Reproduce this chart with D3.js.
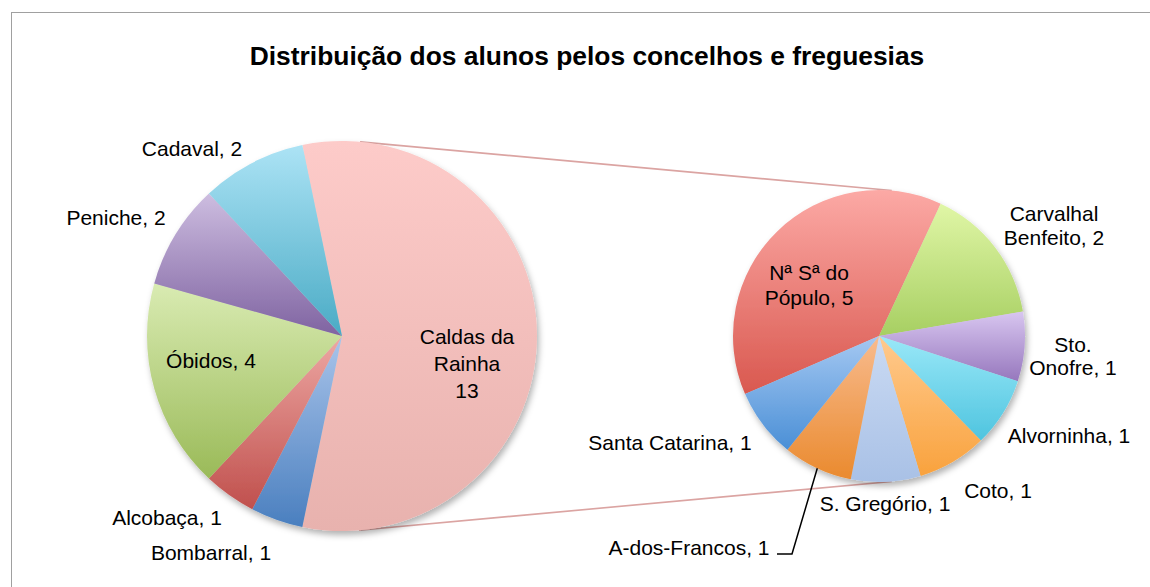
<!DOCTYPE html>
<html>
<head>
<meta charset="utf-8">
<script src="https://cdn.jsdelivr.net/npm/d3@7"></script>
<style>
  html, body { margin: 0; padding: 0; background: #fff; }
  svg { display: block; font-family: "Liberation Sans", Arial, Helvetica, sans-serif; }
</style>
</head>
<body>
<svg id="chart" width="1150" height="587"></svg>
<script>
// ---------- DATA ----------
const title = "Distribuição dos alunos pelos concelhos e freguesias";

const mainCategories = ["Caldas da Rainha", "Bombarral", "Alcobaça", "Óbidos", "Peniche", "Cadaval"];
const mainValues     = [13, 1, 1, 4, 2, 2];
const mainLabels     = [["Caldas da", "Rainha", "13"], ["Bombarral, 1"], ["Alcobaça, 1"], ["Óbidos, 4"], ["Peniche, 2"], ["Cadaval, 2"]];

const subCategories = ["Nª Sª do Pópulo", "Carvalhal Benfeito", "Sto. Onofre", "Alvorninha", "Coto", "S. Gregório", "A-dos-Francos", "Santa Catarina"];
const subValues     = [5, 2, 1, 1, 1, 1, 1, 1];
const subLabels     = [["Nª Sª do", "Pópulo, 5"], ["Carvalhal", "Benfeito, 2"], ["Sto.", "Onofre, 1"], ["Alvorninha, 1"], ["Coto, 1"], ["S. Gregório, 1"], ["A-dos-Francos, 1"], ["Santa Catarina, 1"]];

// ---------- STYLE / LAYOUT ----------
const mainColors = [["#fdcbc9", "#e8b2ae"], ["#a9c4ea", "#4a7fbf"], ["#eda7a3", "#c0504d"], ["#d9ebb2", "#9aba58"], ["#cdbde0", "#7f63a1"], ["#ace3f5", "#4aabc5"]];
const subColors  = [["#fca9a5", "#d9584f"], ["#e0f6a6", "#a7cf62"], ["#d8c6f0", "#9677bd"], ["#9ae8f8", "#4ec4df"], ["#ffca8e", "#f9a23d"], ["#cadaf3", "#a9c1e6"], ["#f8bb8e", "#ea8a2e"], ["#a5c8f2", "#4a8fd6"]];

const mainPie = { cx: 342, cy: 336, r: 195, startDeg: -11.74 };
const subPie  = { cx: 879, cy: 336, r: 146, startDeg: -113.46 };

// label offsets relative to pie centre [dx, dy, anchor, lineHeight]
const mainLabelPos = [[125, 27, "middle", 27], [-131, 216, "middle", 25], [-175, 181, "middle", 25], [-131, 24, "middle", 25], [-226, -119, "middle", 25], [-150, -188, "middle", 25]];
const subLabelPos  = [[-70, -51, "middle", 25], [175, -111, "middle", 24], [194, 20, "middle", 23], [190, 99, "middle", 25], [119, 154, "middle", 25], [6, 167, "middle", 25], [-190, 211, "middle", 25], [-209, 106, "middle", 25]];

const svg = d3.select("#chart");
const defs = svg.append("defs");

// drop shadow
const f = defs.append("filter").attr("id", "shadow").attr("x", "-10%").attr("y", "-10%").attr("width", "125%").attr("height", "125%");
f.append("feDropShadow").attr("dx", 2).attr("dy", 4).attr("stdDeviation", 3).attr("flood-color", "#000").attr("flood-opacity", 0.3);

function grad(id, c) {
  const g = defs.append("linearGradient").attr("id", id).attr("x1", 0).attr("y1", 0).attr("x2", 0).attr("y2", 1);
  g.append("stop").attr("offset", "0%").attr("stop-color", c[0]);
  g.append("stop").attr("offset", "100%").attr("stop-color", c[1]);
}
mainColors.forEach((c, i) => grad("gm" + i, c));
subColors.forEach((c, i) => grad("gs" + i, c));

// frame
svg.append("rect").attr("x", 11.5).attr("y", 12.5).attr("width", 1160).attr("height", 600)
  .attr("fill", "none").attr("stroke", "#a0a0a0").attr("stroke-width", 1);

// title
svg.append("text").attr("x", 587).attr("y", 65).attr("text-anchor", "middle")
  .attr("font-size", 26.4).attr("font-weight", "bold").attr("fill", "#000").text(title);

const rad = d => d * Math.PI / 180;
function pt(p, deg, r) { return [p.cx + r * Math.sin(rad(deg)), p.cy - r * Math.cos(rad(deg))]; }

// connector lines
const connectors = [[5.3, 5], [175, 175]];
connectors.forEach(([a1, a2]) => {
  const p1 = pt(mainPie, a1, mainPie.r), p2 = pt(subPie, a2, subPie.r);
  svg.append("line").attr("x1", p1[0]).attr("y1", p1[1]).attr("x2", p2[0]).attr("y2", p2[1])
    .attr("stroke", "#dba4a2").attr("stroke-width", 1.6);
});

function drawPie(p, values, labels, prefix, labelPos) {
  const pie = d3.pie().sort(null).value(d => d)
    .startAngle(rad(p.startDeg)).endAngle(rad(p.startDeg) + 2 * Math.PI);
  const arcs = pie(values);
  const arc = d3.arc().innerRadius(0).outerRadius(p.r);
  const g = svg.append("g").attr("transform", `translate(${p.cx},${p.cy})`);
  const sg = g.append("g").attr("filter", "url(#shadow)");
  sg.selectAll("path").data(arcs).enter().append("path")
    .attr("d", arc).attr("fill", (d, i) => `url(#${prefix}${i})`);
  // labels
  arcs.forEach((a, i) => {
    const lp = labelPos[i];
    const lines = labels[i];
    const lh = lp[3];
    const t = g.append("text").attr("text-anchor", lp[2]).attr("font-size", 21).attr("fill", "#000");
    lines.forEach((ln, k) => {
      t.append("tspan").attr("x", lp[0]).attr("y", lp[1] + (k - (lines.length - 1) / 2) * lh + 7.5).text(ln);
    });
  });
  return arcs;
}

drawPie(mainPie, mainValues, mainLabels, "gm", mainLabelPos);
const subArcs = drawPie(subPie, subValues, subLabels, "gs", subLabelPos);

// leader line for A-dos-Francos
const af = subArcs[6];
const midDeg = ((af.startAngle + af.endAngle) / 2) * 180 / Math.PI;
const tip = pt(subPie, midDeg, subPie.r);
const elbow = [subPie.cx - 87, subPie.cy + 218];
svg.append("polyline")
  .attr("points", [[subPie.cx - 102, elbow[1]], elbow, tip].map(d => d.join(",")).join(" "))
  .attr("fill", "none").attr("stroke", "#000").attr("stroke-width", 1.5);
</script>
</body>
</html>
